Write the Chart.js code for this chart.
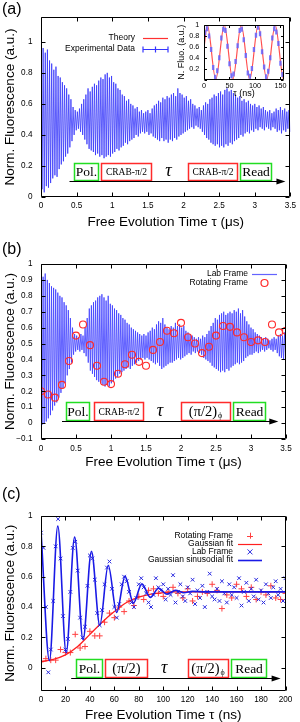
<!DOCTYPE html>
<html>
<head>
<meta charset="utf-8">
<title>Norm. Fluorescence</title>
<script src="https://cdn.jsdelivr.net/npm/chart.js@4.4.1/dist/chart.umd.min.js"></script>
<style>
  body { margin: 0; background: #fff; }
  #page { position: relative; width: 300px; height: 722px; overflow: hidden; font-family: "Liberation Sans", Arial, sans-serif; }
  #page canvas { position: absolute; left: 0; }
  .tag { position: absolute; left: 2px; font-size: 16px; line-height: 18px; color: #000; }
</style>
</head>
<body>
<div id="page">
  <canvas id="ca" width="300" height="232" style="top:0"></canvas>
  <canvas id="ci" width="300" height="232" style="top:0"></canvas>
  <canvas id="cb" width="300" height="236" style="top:240px"></canvas>
  <canvas id="cc" width="300" height="242" style="top:480px"></canvas>
  <div class="tag" style="top:0">(a)</div>
  <div class="tag" style="top:240px">(b)</div>
  <div class="tag" style="top:485px">(c)</div>
</div>
<script>
// ---- panel (a): lab frame trace, read as one peak + one dip per oscillation
const aTicksX = [0, 0.5, 1, 1.5, 2, 2.5, 3, 3.5];
const aTicksY = [0, 0.2, 0.4, 0.6, 0.8, 1];
const aStep = 0.03; // us between successive peaks
const aPeaks = [0.90,0.96,0.93,0.95,0.88,0.86,0.82,0.84,0.78,0.77, 0.74,0.72,0.70,0.66,0.63,0.58,0.56,0.55,0.57,0.60,
  0.63,0.66,0.70,0.68,0.71,0.73,0.72,0.75,0.77,0.76, 0.79,0.80,0.77,0.78,0.74,0.73,0.70,0.69,0.66,0.65,
  0.62,0.63,0.60,0.59,0.57,0.58,0.55,0.56,0.54,0.55, 0.56,0.54,0.57,0.59,0.60,0.62,0.61,0.64,0.63,0.65,
  0.64,0.66,0.67,0.65,0.70,0.67,0.66,0.64,0.65,0.62, 0.63,0.60,0.59,0.57,0.58,0.56,0.59,0.61,0.60,0.63,
  0.64,0.66,0.65,0.67,0.68,0.66,0.69,0.70,0.68,0.69, 0.67,0.66,0.64,0.65,0.62,0.63,0.61,0.62,0.60,0.59,
  0.60,0.58,0.59,0.57,0.58,0.56,0.55,0.56,0.54,0.55, 0.57,0.56,0.58,0.56,0.57,0.55,0.56];
const aDips = [0.05,0.03,0.07,0.06,0.09,0.12,0.14,0.13,0.18,0.21, 0.23,0.26,0.28,0.32,0.36,0.40,0.43,0.44,0.42,0.40,
  0.37,0.34,0.31,0.30,0.29,0.27,0.28,0.26,0.27,0.25, 0.26,0.27,0.26,0.28,0.29,0.31,0.30,0.32,0.33,0.35,
  0.34,0.36,0.37,0.38,0.40,0.39,0.41,0.42,0.41,0.42, 0.40,0.41,0.39,0.38,0.37,0.36,0.38,0.36,0.37,0.35,
  0.37,0.36,0.38,0.37,0.39,0.40,0.41,0.42,0.43,0.44, 0.45,0.44,0.46,0.45,0.44,0.42,0.40,0.38,0.37,0.35,
  0.34,0.33,0.34,0.32,0.33,0.32,0.34,0.33,0.35,0.34, 0.36,0.37,0.38,0.40,0.39,0.41,0.42,0.41,0.43,0.42,
  0.44,0.43,0.45,0.44,0.43,0.45,0.44,0.43,0.45,0.44, 0.42,0.43,0.41,0.43,0.42,0.44,0.42];

// inset of (a)
const insetTicksX = [0, 50, 100, 150];
const insetTicksY = [0, 0.2, 0.4, 0.6, 0.8, 1];
const insetTheoryT = [0, 6.5, 23.1, 39.8, 56.4, 73.1, 89.8, 106.4, 123.1, 139.7, 156.4, 157];
const insetTheory = [0.58, 1, 0, 1, 0, 1, 0, 1, 0, 1, 0, 0.01];
const insetDataT0 = 2, insetDataStep = 4;
const insetData = [0.86,0.93,0.80,0.55,0.22,0.04,0.16,0.40,0.76,0.92, 0.90,0.61,0.29,0.07,0.10,0.33,0.62,0.90,0.92,0.73,
  0.44,0.12,0.06,0.20,0.55,0.81,0.96,0.84,0.51,0.23, 0.05,0.15,0.40,0.76,0.93,0.87,0.66,0.30,0.09];

// ---- panel (b)
const bTicksX = [0, 0.5, 1, 1.5, 2, 2.5, 3, 3.5];
const bTicksY = [-0.1, 0, 0.1, 0.2, 0.3, 0.4, 0.5, 0.6, 0.7, 0.8, 0.9, 1];
const bStep = 0.03;
const bPeaks = [0.93,0.92,0.94,0.90,0.88,0.86,0.85,0.84,0.82,0.80, 0.79,0.76,0.74,0.71,0.66,0.60,0.56,0.55,0.54,0.56,
  0.55,0.60,0.66,0.72,0.74,0.76,0.77,0.79,0.80,0.81, 0.79,0.77,0.80,0.75,0.74,0.72,0.71,0.69,0.68,0.66,
  0.65,0.63,0.62,0.60,0.59,0.58,0.57,0.56,0.55,0.56, 0.55,0.57,0.58,0.60,0.59,0.62,0.64,0.63,0.66,0.62,
  0.60,0.59,0.61,0.60,0.63,0.61,0.62,0.60,0.61,0.58, 0.57,0.56,0.55,0.54,0.53,0.54,0.53,0.55,0.54,0.56,
  0.58,0.61,0.63,0.66,0.65,0.68,0.69,0.70,0.68,0.69, 0.70,0.69,0.71,0.70,0.72,0.69,0.71,0.67,0.64,0.62,
  0.60,0.59,0.57,0.56,0.55,0.54,0.53,0.54,0.53,0.52, 0.53,0.54,0.53,0.55,0.56,0.55,0.57];
const bDips = [-0.01,0.00,0.01,0.03,0.05,0.08,0.11,0.13,0.16,0.19, 0.22,0.25,0.30,0.34,0.38,0.43,0.45,0.46,0.45,0.46,
  0.44,0.42,0.38,0.33,0.31,0.29,0.27,0.26,0.25,0.24, 0.23,0.24,0.23,0.25,0.26,0.28,0.29,0.31,0.32,0.33,
  0.34,0.35,0.34,0.36,0.37,0.38,0.39,0.40,0.41,0.40, 0.41,0.40,0.39,0.38,0.37,0.38,0.36,0.34,0.35,0.36,
  0.37,0.38,0.38,0.39,0.40,0.41,0.40,0.41,0.42,0.43, 0.44,0.43,0.45,0.44,0.45,0.44,0.43,0.41,0.40,0.39,
  0.38,0.36,0.35,0.34,0.33,0.32,0.33,0.32,0.34,0.33, 0.35,0.36,0.37,0.38,0.37,0.38,0.39,0.41,0.42,0.43,
  0.43,0.44,0.45,0.44,0.45,0.46,0.45,0.46,0.47,0.46, 0.45,0.46,0.44,0.42,0.41,0.40,0.42];
const bRotT = [0,0.1,0.2,0.3,0.4,0.5,0.6,0.7,0.8,0.9,1.0,1.1,1.2,1.3,1.4,1.5,1.6,1.7,
  1.8,1.9,2.0,2.1,2.2,2.3,2.4,2.5,2.6,2.7,2.8,2.9,3.0,3.1,3.2,3.3,3.4,3.5];
const bRot = [0.20,0.18,0.16,0.24,0.39,0.55,0.62,0.49,0.36,0.26,0.245,0.31,0.37,0.43,0.385,0.36,0.46,0.51,
  0.58,0.565,0.63,0.54,0.50,0.44,0.48,0.55,0.61,0.605,0.57,0.54,0.51,0.52,0.51,0.62,0.57,0.58];

// ---- panel (c)
const cTicksX = [0, 20, 40, 60, 80, 100, 120, 140, 160, 180, 200];
const cTicksY = [0, 0.2, 0.4, 0.6, 0.8, 1];
const cLabStep = 2;
const cLab = [0.89,0.79,0.40,-0.03,0.12,0.44,0.80,0.98,0.72,0.34, 0.12,0.19,0.50,0.79,0.83,0.64,0.33,0.20,0.27,0.54,
  0.74,0.72,0.58,0.36,0.28,0.38,0.55,0.66,0.70,0.52, 0.40,0.33,0.42,0.55,0.60,0.57,0.50,0.43,0.40,0.46,
  0.55,0.59,0.53,0.49,0.43,0.40,0.48,0.59,0.53,0.51, 0.55,
  0.45,0.52,0.48,0.61,0.43,0.50,0.55,0.47,0.44,0.53, 0.49,0.58,0.42,0.51,0.46,0.54,0.40,0.50,0.62,0.47,
  0.45,0.52,0.44,0.57,0.49,0.43,0.55,0.48,0.53,0.46, 0.59,0.41,0.50,0.56,0.44,0.52,0.47,0.58,0.45,0.51,
  0.43,0.55,0.49,0.46,0.53,0.57,0.48,0.52,0.44,0.59];
const cRotStep = 4;
const cRot = [0.04,0.06,0.05,0.05,0.12,0.10,0.10,0.22,0.13,0.14, 0.24,0.21,0.21,0.30,0.36,0.33,0.40,0.37,0.44,0.41,
  0.47,0.45,0.51,0.52,0.49,0.47,0.50,0.53,0.49,0.46, 0.52,0.44,0.47,0.50,0.49,0.55,0.51,0.39,0.48,0.46,
  0.55,0.52,0.47,0.53,0.45,0.50,0.48,0.54,0.46,0.45, 0.49];
const cGaussT = [0, 10, 20, 30, 40, 50, 60, 70, 80, 90, 100, 110, 200];
const cGauss = [0.04, 0.055, 0.085, 0.14, 0.22, 0.30, 0.37, 0.43, 0.465, 0.485, 0.495, 0.5, 0.5];
const cSinT = [0, 6.9, 13.75, 20.6, 27.5, 34.4, 41.25, 48.1, 55, 61.9, 68.75, 75.6, 82.5, 89.4, 96.25, 103.1, 110, 116.9, 123.75, 135, 200];
const cSin = [0.90, 0.047, 0.933, 0.098, 0.861, 0.184, 0.767, 0.280, 0.675, 0.364, 0.602, 0.426, 0.553, 0.464, 0.524, 0.485, 0.510, 0.494, 0.503, 0.5, 0.5];

// ---------- helpers
const sans = '"Liberation Sans", Arial, Helvetica, sans-serif';
const serif = '"Liberation Serif", "Times New Roman", serif';
const RED = '#ff2a2a', GREEN = '#22dd22';

const pts = (xs, ys) => ys.map((y, i) => ({x: xs[i], y}));
const grid = (t0, step, ys) => ys.map((y, i) => ({x: t0 + i * step, y}));
function zigzag(peaks, dips, step) {
  const out = [];
  peaks.forEach((p, k) => {
    out.push({x: k * step, y: p});
    out.push({x: k * step + step / 2, y: dips[k]});
  });
  return out;
}
function num(v) {
  const s = String(+v.toFixed(3));
  return v < 0 ? '\u2212' + s.slice(1) : s;
}

function scaleSet(p) {
  const common = {
    type: 'linear',
    grid: {display: false, drawTicks: false},
    border: {display: false},
  };
  return {
    x: Object.assign({}, common, {
      min: p.xMin, max: p.xMax,
      afterBuildTicks: s => { s.ticks = p.xTicks.map(v => ({value: v})); },
      afterFit: s => { s.height = p.xH; },
      ticks: {autoSkip: false, maxRotation: 0, color: '#000', padding: p.xPad,
              font: {family: sans, size: p.tickSize}, callback: v => num(v)},
      title: {display: true, text: p.xTitle, color: '#000',
              font: {family: sans, size: p.titleSize}, padding: {top: 0, bottom: p.xTitlePad}}
    }),
    y: Object.assign({}, common, {
      min: p.yMin, max: p.yMax,
      afterBuildTicks: s => { s.ticks = p.yTicks.map(v => ({value: v})); },
      afterFit: s => { s.width = p.yW; },
      ticks: {autoSkip: false, color: '#000', padding: p.yPad, font: {family: sans, size: p.tickSize},
              callback: v => (p.yHide && p.yHide.includes(v)) ? '' : num(v)},
      title: {display: true, text: p.yTitle, color: '#000',
              font: {family: sans, size: p.titleSize}, padding: {top: p.yTitlePad, bottom: 0}}
    })
  };
}

// inward tick marks + closed frame, gnuplot style
const frameCfg = {ca: 4, ci: 2.5, cb: 4, cc: 4};
const framePlugin = {
  id: 'frame',
  afterDatasetsDraw(chart) {
    const len = frameCfg[chart.canvas.id];
    const {ctx, chartArea: a, scales: {x, y}} = chart;
    const L = Math.round(a.left) + 0.5, R = Math.round(a.right) - 0.5;
    const T = Math.round(a.top) + 0.5, B = Math.round(a.bottom) - 0.5;
    ctx.save();
    ctx.strokeStyle = '#000';
    ctx.lineWidth = 1;
    ctx.beginPath();
    ctx.rect(L, T, R - L, B - T);
    x.ticks.forEach(t => {
      const p = Math.round(x.getPixelForValue(t.value)) + 0.5;
      ctx.moveTo(p, B); ctx.lineTo(p, B - len);
      ctx.moveTo(p, T); ctx.lineTo(p, T + len);
    });
    y.ticks.forEach(t => {
      const p = Math.round(y.getPixelForValue(t.value)) + 0.5;
      ctx.moveTo(L, p); ctx.lineTo(L + len, p);
      ctx.moveTo(R, p); ctx.lineTo(R - len, p);
    });
    ctx.stroke();
    ctx.restore();
  }
};

// pulse sequence sketch inside each panel
const bigF = '13.5px ' + serif, smallF = '9.5px ' + serif, midF = '14.5px ' + serif;
const seqCfg = {
  ca: {base: 0.10, top: 0.217, arrow: [0.40, 3.43], tau: 1.79, boxes: [
    {from: 0.46, to: 0.80, color: GREEN, text: 'Pol.', font: bigF},
    {from: 0.84, to: 1.54, color: RED, text: 'CRAB-\u03c0/2', font: smallF},
    {from: 2.06, to: 2.75, color: RED, text: 'CRAB-\u03c0/2', font: smallF},
    {from: 2.79, to: 3.23, color: GREEN, text: 'Read', font: bigF}]},
  cb: {base: 0.015, top: 0.13, arrow: [0.30, 3.39], tau: 1.70, boxes: [
    {from: 0.35, to: 0.69, color: GREEN, text: 'Pol.', font: bigF},
    {from: 0.75, to: 1.46, color: RED, text: 'CRAB-\u03c0/2', font: smallF},
    {from: 2.0, to: 2.7, color: RED, text: '(\u03c0/2)', sub: '\u03d5', font: midF},
    {from: 2.74, to: 3.2, color: GREEN, text: 'Read', font: bigF}]},
  cc: {base: -0.066, top: 0.055, arrow: [24.7, 196], tau: 100.7, boxes: [
    {from: 28.8, to: 50, color: GREEN, text: 'Pol.', font: bigF},
    {from: 52.7, to: 86.4, color: RED, text: '(\u03c0/2)', font: midF},
    {from: 119.9, to: 152.8, color: RED, text: '(\u03c0/2)', sub: '\u03d5', font: midF},
    {from: 155.6, to: 184.4, color: GREEN, text: 'Read', font: bigF}]}
};
const seqPlugin = {
  id: 'seq',
  afterDatasetsDraw(chart) {
    const o = seqCfg[chart.canvas.id];
    if (!o) return;
    const {ctx, scales: {x, y}} = chart;
    const ya = Math.round(y.getPixelForValue(o.base)) + 0.5;
    const yt = Math.round(y.getPixelForValue(o.top)) + 0.5;
    const yb = ya - 1;
    const cy = (yt + yb) / 2 + 0.5;
    ctx.save();
    ctx.textAlign = 'center';
    ctx.textBaseline = 'middle';
    o.boxes.forEach(b => {
      const x0 = Math.round(x.getPixelForValue(b.from)) + 0.5;
      const x1 = Math.round(x.getPixelForValue(b.to)) + 0.5;
      ctx.fillStyle = '#fff';
      ctx.fillRect(x0, yt, x1 - x0, yb - yt);
      ctx.strokeStyle = b.color;
      ctx.lineWidth = 1.5;
      ctx.strokeRect(x0, yt, x1 - x0, yb - yt);
      ctx.fillStyle = '#000';
      ctx.font = b.font;
      const cx = (x0 + x1) / 2;
      if (b.sub) {
        const w = ctx.measureText(b.text).width;
        ctx.fillText(b.text, cx - 3, cy);
        ctx.font = '8px ' + serif;
        ctx.fillText(b.sub, cx - 3 + w / 2 + 3, cy + 4);
      } else {
        ctx.fillText(b.text, cx, cy);
      }
    });
    ctx.fillStyle = '#000';
    ctx.font = 'italic 18px ' + serif;
    ctx.fillText('\u03c4', x.getPixelForValue(o.tau), cy - 1);
    const ax0 = x.getPixelForValue(o.arrow[0]), ax1 = x.getPixelForValue(o.arrow[1]);
    ctx.strokeStyle = '#000';
    ctx.lineWidth = 1;
    ctx.beginPath();
    ctx.moveTo(ax0, ya); ctx.lineTo(ax1 - 5, ya);
    ctx.stroke();
    ctx.beginPath();
    ctx.moveTo(ax1, ya); ctx.lineTo(ax1 - 9, ya - 3); ctx.lineTo(ax1 - 9, ya + 3);
    ctx.closePath();
    ctx.fill();
    ctx.restore();
  }
};

// gnuplot-like key: right-aligned text, sample to the right
const keyCfg = {
  ca: {right: 135, x0: 143, x1: 168, y: 37.5, dy: 11.5, items: [
    {text: 'Theory', kind: 'line', color: '#ff3030'},
    {text: 'Experimental Data', kind: 'err', color: '#3535ff'}]},
  cb: {right: 248, x0: 252, x1: 277, y: 34, dy: 9, items: [
    {text: 'Lab Frame', kind: 'line', color: 'rgba(60,60,255,0.8)'},
    {text: 'Rotating Frame', kind: 'circle', color: RED}]},
  cc: {right: 233, x0: 238, x1: 262, y: 55.7, dy: 8.1, items: [
    {text: 'Rotating Frame', kind: 'plus', color: '#ff4040'},
    {text: 'Gaussian fit', kind: 'line', color: '#ff2020'},
    {text: 'Lab Frame', kind: 'x', color: '#2a2ae0'},
    {text: 'Gaussian sinusodial fit', kind: 'line', color: '#1a1ae6', width: 1.6}]}
};
const keyPlugin = {
  id: 'key',
  afterDraw(chart) {
    const k = keyCfg[chart.canvas.id];
    if (!k) return;
    const ctx = chart.ctx;
    const xm = (k.x0 + k.x1) / 2;
    ctx.save();
    ctx.font = '8.5px ' + sans;
    ctx.textAlign = 'right';
    ctx.textBaseline = 'middle';
    k.items.forEach((it, i) => {
      const yy = k.y + i * k.dy;
      const ly = Math.round(yy) + 0.5;
      ctx.fillStyle = '#000';
      ctx.fillText(it.text, k.right, yy);
      ctx.strokeStyle = it.color;
      ctx.lineWidth = it.width || 1.2;
      ctx.beginPath();
      if (it.kind === 'line' || it.kind === 'err') {
        ctx.moveTo(k.x0, ly); ctx.lineTo(k.x1, ly);
      }
      if (it.kind === 'err') {
        [k.x0, xm, k.x1].forEach(px => { ctx.moveTo(px, ly - 3); ctx.lineTo(px, ly + 3); });
      }
      if (it.kind === 'circle') {
        ctx.arc(xm, yy, 3.5, 0, Math.PI * 2);
      }
      if (it.kind === 'plus') {
        ctx.lineWidth = 1;
        ctx.moveTo(xm - 3, ly); ctx.lineTo(xm + 3, ly);
        ctx.moveTo(xm + 0.5, yy - 3); ctx.lineTo(xm + 0.5, yy + 3);
      }
      if (it.kind === 'x') {
        ctx.lineWidth = 1;
        ctx.moveTo(xm - 2.5, yy - 2.5); ctx.lineTo(xm + 2.5, yy + 2.5);
        ctx.moveTo(xm - 2.5, yy + 2.5); ctx.lineTo(xm + 2.5, yy - 2.5);
      }
      ctx.stroke();
    });
    ctx.restore();
  }
};

const whitePlot = {
  id: 'whitePlot',
  beforeDraw(chart) {
    const a = chart.chartArea;
    chart.ctx.save();
    chart.ctx.fillStyle = '#fff';
    chart.ctx.fillRect(a.left, a.top, a.right - a.left, a.bottom - a.top);
    chart.ctx.restore();
  }
};

function options(pad, scales) {
  return {
    responsive: false, animation: false, events: [],
    layout: {padding: pad},
    plugins: {legend: {display: false}, tooltip: {enabled: false}},
    scales
  };
}
const plugins = [framePlugin, seqPlugin, keyPlugin];

// ---------- (a)
new Chart(document.getElementById('ca'), {
  type: 'line',
  data: {datasets: [{
    label: 'Experimental Data', data: zigzag(aPeaks, aDips, aStep),
    borderColor: 'rgba(55,55,250,0.8)', borderWidth: 1, pointRadius: 0, tension: 0
  }]},
  options: options({left: 0, right: 7, top: 17, bottom: 0}, scaleSet({
    xMin: 0, xMax: 3.5, yMin: 0, yMax: 1.16, xTicks: aTicksX, yTicks: aTicksY,
    xTitle: 'Free Evolution Time \u03c4 (\u03bcs)', yTitle: 'Norm. Fluorescence (a.u.)',
    xH: 35, yW: 41, xPad: 3.9, yPad: 8.5, xTitlePad: 1.9, yTitlePad: 2, tickSize: 8.2, titleSize: 13.5
  })),
  plugins
});

// inset
new Chart(document.getElementById('ci'), {
  type: 'line',
  data: {datasets: [
    {label: 'Experimental Data', data: grid(insetDataT0, insetDataStep, insetData), showLine: false,
     pointStyle: 'line', rotation: 90, pointRadius: 2.5, borderWidth: 2.4,
     borderColor: 'rgba(100,100,255,0.85)', order: 0},
    {label: 'Theory', data: pts(insetTheoryT, insetTheory), borderColor: '#ff5050', borderWidth: 1.2,
     pointRadius: 0, cubicInterpolationMode: 'monotone', order: 1}
  ]},
  options: options({left: 170, right: 16, top: 25, bottom: 128}, scaleSet({
    xMin: 0, xMax: 157, yMin: 0, yMax: 1, xTicks: insetTicksX, yTicks: insetTicksY, yHide: [0],
    xTitle: '\u03c4 (ns)', yTitle: 'N. Fluo. (a.u.)',
    xH: 24.5, yW: 34, xPad: 2.2, yPad: 4.7, xTitlePad: 5.3, yTitlePad: 6.3, tickSize: 7.2, titleSize: 9
  })),
  plugins: [whitePlot, framePlugin]
});

// ---------- (b)
new Chart(document.getElementById('cb'), {
  type: 'line',
  data: {datasets: [
    {label: 'Rotating Frame', data: pts(bRotT, bRot), showLine: false, pointStyle: 'circle',
     pointRadius: 3.5, borderWidth: 1.1, borderColor: RED, backgroundColor: 'rgba(0,0,0,0)', order: 0},
    {label: 'Lab Frame', data: zigzag(bPeaks, bDips, bStep),
     borderColor: 'rgba(60,60,255,0.8)', borderWidth: 1, pointRadius: 0, tension: 0, order: 1}
  ]},
  options: options({left: 0, right: 14, top: 24, bottom: 0}, scaleSet({
    xMin: 0, xMax: 3.5, yMin: -0.1, yMax: 1, xTicks: bTicksX, yTicks: bTicksY,
    xTitle: 'Free Evolution Time \u03c4 (\u03bcs)', yTitle: 'Norm. Fluorescence (a.u.)',
    xH: 37, yW: 41, xPad: 5.2, yPad: 8.5, xTitlePad: 5.4, yTitlePad: 2, tickSize: 8.2, titleSize: 13.5
  })),
  plugins
});

// ---------- (c)
new Chart(document.getElementById('cc'), {
  type: 'line',
  data: {datasets: [
    {label: 'Gaussian sinusodial fit', data: pts(cSinT, cSin), borderColor: '#1a1ae6', borderWidth: 1.6,
     pointRadius: 0, cubicInterpolationMode: 'monotone', order: 0},
    {label: 'Lab Frame', data: grid(0, cLabStep, cLab), showLine: false, pointStyle: 'crossRot',
     pointRadius: 2.6, borderWidth: 1, borderColor: '#2a2ae0', order: 1},
    {label: 'Gaussian fit', data: pts(cGaussT, cGauss), borderColor: '#ff2020', borderWidth: 1.3,
     pointRadius: 0, cubicInterpolationMode: 'monotone', order: 2},
    {label: 'Rotating Frame', data: grid(0, cRotStep, cRot), showLine: false, pointStyle: 'cross',
     pointRadius: 3, borderWidth: 1, borderColor: '#ff4040', order: 3}
  ]},
  options: options({left: 0, right: 14.5, top: 36, bottom: 0}, scaleSet({
    xMin: 0, xMax: 200, yMin: -0.15, yMax: 1, xTicks: cTicksX, yTicks: cTicksY,
    xTitle: 'Free Evolution Time \u03c4 (ns)', yTitle: 'Norm. Fluorescence (a.u.)',
    xH: 31.5, yW: 41, xPad: 4, yPad: 8.5, xTitlePad: -1, yTitlePad: 2, tickSize: 8.2, titleSize: 13.5
  })),
  plugins
});
</script>
</body>
</html>
